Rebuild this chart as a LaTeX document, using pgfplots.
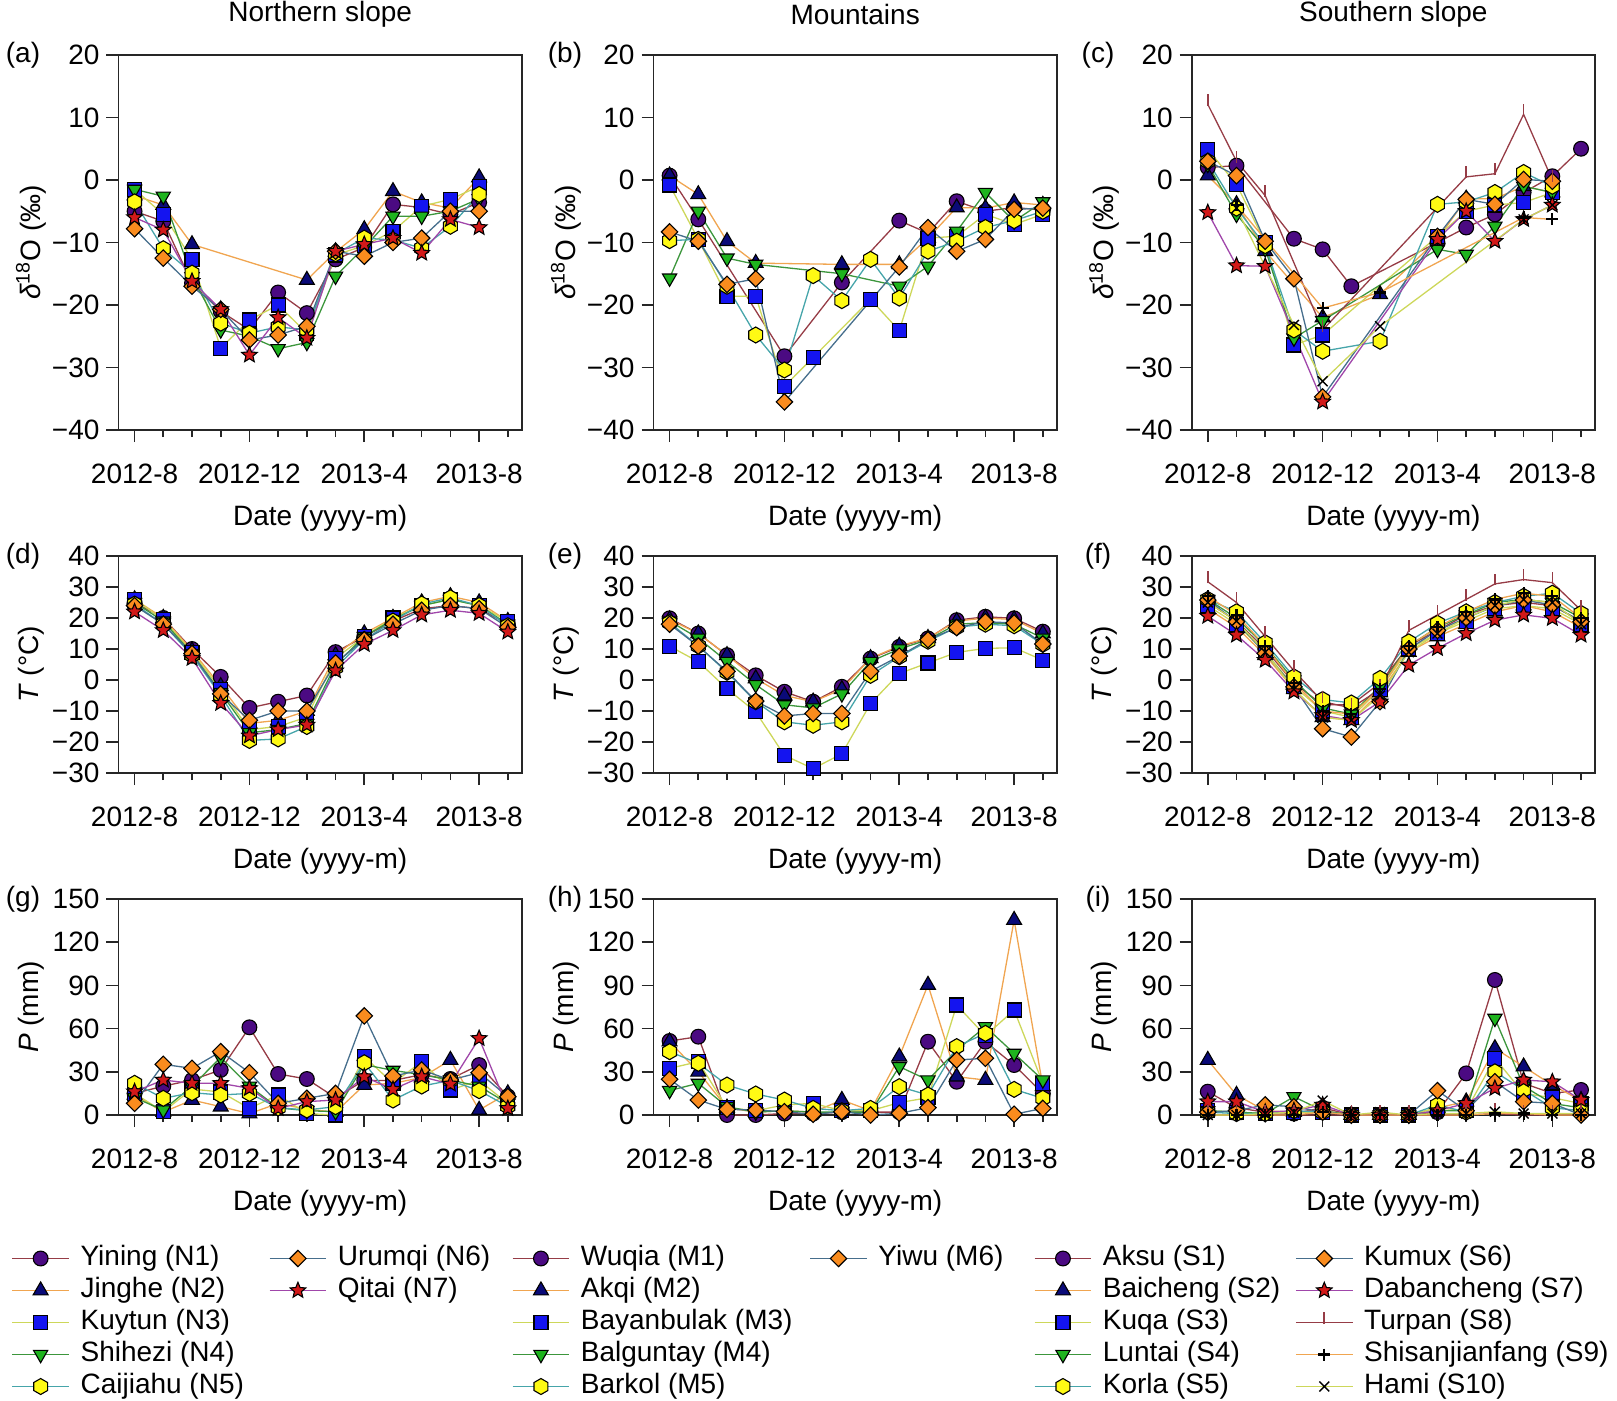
\documentclass[border=0pt]{standalone}
\usepackage{fontspec}
\setmainfont{Liberation Sans}
\usepackage{pgfplots}
\pgfplotsset{compat=1.18}
\usetikzlibrary{plotmarks}
\newcommand{\fs}{\fontsize{14}{16}\selectfont}
\definecolor{L1}{RGB}{150,60,70}
\definecolor{L2}{RGB}{240,165,80}
\definecolor{L3}{RGB}{205,215,90}
\definecolor{L4}{RGB}{60,150,60}
\definecolor{L5}{RGB}{70,165,170}
\definecolor{L6}{RGB}{70,110,140}
\definecolor{L7}{RGB}{160,70,170}
\definecolor{F1}{RGB}{75,10,130}
\definecolor{F2}{RGB}{10,10,120}
\definecolor{F3}{RGB}{20,20,240}
\definecolor{F4}{RGB}{30,180,30}
\definecolor{F5}{RGB}{255,250,20}
\definecolor{F6}{RGB}{250,140,30}
\definecolor{F7}{RGB}{210,25,25}
\pgfdeclareplotmark{hex*}{%
 \pgfpathmoveto{\pgfpointpolar{90}{\pgfplotmarksize}}%
 \pgfpathlineto{\pgfpointpolar{150}{\pgfplotmarksize}}%
 \pgfpathlineto{\pgfpointpolar{210}{\pgfplotmarksize}}%
 \pgfpathlineto{\pgfpointpolar{270}{\pgfplotmarksize}}%
 \pgfpathlineto{\pgfpointpolar{330}{\pgfplotmarksize}}%
 \pgfpathlineto{\pgfpointpolar{30}{\pgfplotmarksize}}%
 \pgfpathclose\pgfusepathqfillstroke}
\pgfdeclareplotmark{fstar}{%
 \pgfpathmoveto{\pgfpointpolar{90}{\pgfplotmarksize}}%
 \pgfpathlineto{\pgfpointpolar{126}{0.45*\pgfplotmarksize}}%
 \pgfpathlineto{\pgfpointpolar{162}{\pgfplotmarksize}}%
 \pgfpathlineto{\pgfpointpolar{198}{0.45*\pgfplotmarksize}}%
 \pgfpathlineto{\pgfpointpolar{234}{\pgfplotmarksize}}%
 \pgfpathlineto{\pgfpointpolar{270}{0.45*\pgfplotmarksize}}%
 \pgfpathlineto{\pgfpointpolar{306}{\pgfplotmarksize}}%
 \pgfpathlineto{\pgfpointpolar{342}{0.45*\pgfplotmarksize}}%
 \pgfpathlineto{\pgfpointpolar{18}{\pgfplotmarksize}}%
 \pgfpathlineto{\pgfpointpolar{54}{0.45*\pgfplotmarksize}}%
 \pgfpathclose\pgfusepathqfillstroke}
\pgfdeclareplotmark{dia*}{%
 \pgfpathmoveto{\pgfpoint{0pt}{\pgfplotmarksize}}%
 \pgfpathlineto{\pgfpoint{\pgfplotmarksize}{0pt}}%
 \pgfpathlineto{\pgfpoint{0pt}{-\pgfplotmarksize}}%
 \pgfpathlineto{\pgfpoint{-\pgfplotmarksize}{0pt}}%
 \pgfpathclose\pgfusepathqfillstroke}
\pgfdeclareplotmark{tup}{%
 \pgfpathmoveto{\pgfpoint{0pt}{-0.3*\pgfplotmarksize}}%
 \pgfpathlineto{\pgfpoint{0pt}{2*\pgfplotmarksize}}%
 \pgfusepathqstroke}
\pgfplotsset{
 mk/.style={mark options={draw=black, line width=0.55pt, solid, fill=#1}},
 s1/.style={color=L1, line width=0.65pt, mark=*, mark size=3.7pt, mk=F1},
 s2/.style={color=L2, line width=0.65pt, mark=triangle*, mark size=4.3pt, mk=F2},
 s3/.style={color=L3, line width=0.65pt, mark=square*, mark size=3.5pt, mk=F3},
 s4/.style={color=L4, line width=0.65pt, mark=triangle*, mark size=4.1pt, mark options={draw=black, line width=0.55pt, solid, fill=F4, rotate=180}},
 s5/.style={color=L5, line width=0.65pt, mark=hex*, mark size=4.0pt, mk=F5},
 s6/.style={color=L6, line width=0.65pt, mark=dia*, mark size=4.1pt, mk=F6},
 s7/.style={color=L7, line width=0.65pt, mark=fstar, mark size=4.1pt, mk=F7},
 s8/.style={color=L1, line width=0.65pt, mark=tup, mark size=2.6pt, mark options={draw=L1, line width=0.8pt, solid}},
 s9/.style={color=L2, line width=0.65pt, mark=+, mark size=3pt, mark options={draw=black, line width=1.1pt, solid}},
 s10/.style={color=L3, line width=0.65pt, mark=x, mark size=3.5pt, mark options={draw=black, line width=0.7pt, solid}},
 panel/.style={
  scale only axis, width=201.7pt, anchor=south west,
  xmin=-0.56, xmax=13.49,
  xtick={0,4,8,12}, xticklabels={2012-8,2012-12,2013-4,2013-8},
  minor xtick={1,2,3,5,6,7,9,10,11,13},
  tick pos=left, tick align=outside,
  major tick length=6pt, minor tick length=3.5pt,
  axis line style={line width=0.95pt, black!85},
  tick style={line width=0.8pt, black!85},
  tick label style={font=\fs},
  xticklabel style={yshift=-7.5pt},
  xlabel={Date (yyyy-m)},
  every axis x label/.style={at={(axis description cs:0.5,0)}, anchor=center, yshift=-44pt, font=\fs},
  every axis y label/.style={at={(axis description cs:-0.2169,0.5)}, rotate=90, anchor=center, font=\fs},
  clip=false,
  legend image code/.code={\draw[mark repeat=2,mark phase=2,##1] plot coordinates {(0pt,0pt) (14.15pt,0pt) (28.3pt,0pt)};},
 },
 r1/.style={height=187.5pt, ymin=-40, ymax=20, ytick={-40,-30,-20,-10,0,10,20},
   yticklabels={−40,−30,−20,−10,0,10,20}, ylabel={\textit{δ}\textsuperscript{18}O (‰)}},
 r2/.style={height=108.5pt, ymin=-30, ymax=40, ytick={-30,-20,-10,0,10,20,30,40},
   yticklabels={−30,−20,−10,0,10,20,30,40}, ylabel={\textit{T} (°C)}},
 r3/.style={height=108pt, ymin=0, ymax=150, ytick={0,30,60,90,120,150},
   yticklabels={0,30,60,90,120,150}, ylabel={\textit{P} (mm)}},
 leg/.style 2 args={legend columns=2, legend cell align=left,
   legend style={draw=none, fill=none, at={(axis description cs:0,0)}, anchor=north west,
   xshift=#1, yshift=-63.75pt, inner sep=0pt, outer sep=0pt, font=\fs,
   column sep=5.5pt, row sep=0pt,
   nodes={inner sep=0pt, text height=11.5pt, text depth=4.5pt},
   /tikz/every even column/.append style={column sep=#2}}},
}
\begin{document}
\begin{tikzpicture}
\useasboundingbox (0,0) rectangle (808.5pt,-700.5pt);
% ---------------- (a)
\begin{axis}[panel, r1, name=a, at={(59.25pt,-215pt)}]
\addplot[s1,forget plot] coordinates {(0,-5)(1,-6.6)(2,-16.5)(3,-21)(4,-24)(5,-18)(6,-21.3)(7,-12.7)(8,-10.8)(9,-3.9)(10,-4.4)(11,-5.5)(12,-3.6)};
\addplot[s2,forget plot] coordinates {(0,-2.5)(1,-4)(2,-10.3)(6,-16)(7,-11.5)(8,-7.9)(9,-1.8)(10,-3.6)(11,-4.5)(12,0.4)};
\addplot[s3,forget plot] coordinates {(0,-1.5)(1,-5.5)(2,-12.7)(3,-26.9)(4,-22.4)(5,-20)(6,-24.5)(7,-12)(8,-10.5)(9,-8.2)(10,-4.2)(11,-3.1)(12,-1)};
\addplot[s4,forget plot] coordinates {(0,-1.5)(1,-2.6)(2,-15.5)(3,-24)(4,-25)(5,-27)(6,-26)(7,-15.4)(8,-10.8)(9,-5.8)(10,-5.8)(11,-5)(12,-3)};
\addplot[s5,forget plot] coordinates {(0,-3.5)(1,-11)(2,-14.9)(3,-22.9)(4,-24.5)(5,-23.5)(6,-24)(7,-11.8)(8,-9.3)(9,-9.6)(10,-10.9)(11,-7.4)(12,-2.3)};
\addplot[s6,forget plot] coordinates {(0,-7.8)(1,-12.5)(2,-17)(3,-20.7)(4,-25.6)(5,-24.8)(6,-23.4)(7,-11.4)(8,-12.2)(9,-10)(10,-9.3)(11,-5)(12,-5)};
\addplot[s7,forget plot] coordinates {(0,-6)(1,-8)(2,-16.2)(3,-20.7)(4,-28)(5,-22)(6,-25.3)(7,-11.4)(8,-10.3)(9,-9.3)(10,-11.7)(11,-6.3)(12,-7.6)};
\end{axis}
\node[font=\fs] at ([xshift=-47.75pt]a.north west) {(a)};
\node[font=\fs] at ([yshift=20.25pt]a.north) {Northern slope};
% ---------------- (b)
\begin{axis}[panel, r1, name=b, at={(326.75pt,-215pt)}]
\addplot[s1,forget plot] coordinates {(0,0.7)(1,-6.3)(4,-28.2)(6,-16.4)(8,-6.5)(9,-8.5)(10,-3.4)(11,-5)(12,-4.4)(13,-4.8)};
\addplot[s2,forget plot] coordinates {(0,0.7)(1,-2.3)(2,-9.8)(3,-13.3)(6,-13.5)(8,-13.5)(9,-9.3)(10,-4.4)(11,-4.5)(12,-3.6)(13,-4)};
\addplot[s3,forget plot] coordinates {(0,-0.8)(1,-9.5)(2,-18.6)(3,-18.6)(4,-33)(5,-28.4)(7,-19.1)(8,-24.1)(9,-9.3)(10,-9)(11,-5.5)(12,-7.1)(13,-5.5)};
\addplot[s4,forget plot] coordinates {(0,-15.7)(1,-5)(2,-12.5)(3,-13.5)(6,-15)(8,-17)(9,-13.8)(10,-8.2)(11,-2)(12,-6.6)(13,-3.5)};
\addplot[s5,forget plot] coordinates {(0,-9.7)(1,-9.5)(2,-17)(3,-24.8)(4,-30.4)(5,-15.3)(6,-19.3)(7,-12.7)(8,-18.9)(9,-11.4)(10,-9.8)(11,-7.6)(12,-6.5)(13,-5)};
\addplot[s6,forget plot] coordinates {(0,-8.3)(1,-9.8)(2,-16.7)(3,-15.8)(4,-35.5)(8,-13.9)(9,-7.6)(10,-11.4)(11,-9.5)(12,-4.7)(13,-4.5)};
\end{axis}
\node[font=\fs] at ([xshift=-44.25pt]b.north west) {(b)};
\node[font=\fs] at ([yshift=20.25pt]b.north) {Mountains};
% ---------------- (c)
\begin{axis}[panel, r1, name=c, at={(595.85pt,-215pt)}]
\addplot[s1,forget plot] coordinates {(0,2)(1,2.3)(3,-9.4)(4,-11.1)(5,-17)(8,-10)(9,-7.6)(10,-5.5)(11,-2)(12,0.6)(13,5)};
\addplot[s2,forget plot] coordinates {(0,0.7)(1,-3.9)(2,-11.4)(4,-22)(6,-18.3)(8,-9.5)(9,-3)(10,-3)(11,-1)(12,-2)};
\addplot[s3,forget plot] coordinates {(0,4.9)(1,-0.7)(2,-10)(3,-26.4)(4,-24.8)(8,-9)(9,-5)(10,-4)(11,-3.6)(12,-2)};
\addplot[s4,forget plot] coordinates {(0,2.5)(1,-5.5)(2,-11)(3,-25.3)(4,-22.5)(8,-11.1)(9,-11.9)(10,-7.4)(11,-1)(12,-2)};
\addplot[s5,forget plot] coordinates {(0,3)(1,-4.5)(2,-10.5)(3,-24)(4,-27.4)(6,-25.8)(8,-3.9)(9,-3.5)(10,-2)(11,1.2)(12,-1)};
\addplot[s6,forget plot] coordinates {(0,3)(1,0.7)(2,-9.8)(3,-15.8)(4,-34.7)(8,-9)(9,-3.1)(10,-3.9)(11,0.1)(12,-0.2)};
\addplot[s7,forget plot] coordinates {(0,-5.2)(1,-13.7)(2,-13.8)(4,-35.5)(8,-9.5)(9,-5)(10,-9.8)(11,-6.3)(12,-4)};
\addplot[s8,forget plot] coordinates {(0,12.1)(1,3)(2,-2.5)(4,-24)(9,0.5)(10,1)(11,10.5)(12,0)};
\addplot[s9,forget plot] coordinates {(1,-4)(4,-20.5)(6,-18)(11,-6)(12,-6.3)};
\addplot[s10,forget plot] coordinates {(1,-4.5)(3,-23.2)(4,-32.2)(6,-23.4)(11,-6.3)(12,-4)};
\end{axis}
\node[font=\fs] at ([xshift=-46.85pt]c.north west) {(c)};
\node[font=\fs] at ([yshift=20.25pt]c.north) {Southern slope};
% ---------------- (d)
\begin{axis}[panel, r2, name=d, at={(59.25pt,-386.5pt)}]
\addplot[s1,forget plot] coordinates {(0,25)(1,20)(2,10)(3,1)(4,-9)(5,-7)(6,-5)(7,9)(8,14)(9,19)(10,23)(11,24)(12,23)(13,18)};
\addplot[s2,forget plot] coordinates {(0,26)(1,20)(2,9.5)(3,-2)(4,-14)(5,-13)(6,-10)(7,8)(8,15)(9,20)(10,25)(11,27)(12,25)(13,19)};
\addplot[s3,forget plot] coordinates {(0,26)(1,19.5)(2,9)(3,-3)(4,-16)(5,-15)(6,-12)(7,7)(8,14)(9,20)(10,24)(11,26)(12,24)(13,19)};
\addplot[s4,forget plot] coordinates {(0,25)(1,19)(2,8.5)(3,-4)(4,-17)(5,-16)(6,-14)(7,5)(8,14)(9,19.5)(10,24)(11,26)(12,24)(13,18)};
\addplot[s5,forget plot] coordinates {(0,24.5)(1,18)(2,8)(3,-5)(4,-19.5)(5,-19)(6,-15)(7,4)(8,13)(9,19)(10,24.5)(11,26.5)(12,24)(13,17.5)};
\addplot[s6,forget plot] coordinates {(0,24)(1,18)(2,8.5)(3,-4.5)(4,-13)(5,-10)(6,-10)(7,5.5)(8,13)(9,18)(10,22.5)(11,24)(12,23)(13,17)};
\addplot[s7,forget plot] coordinates {(0,22)(1,16)(2,7)(3,-7.5)(4,-18)(5,-16)(6,-14.5)(7,3)(8,11.5)(9,16)(10,21)(11,22.5)(12,21.5)(13,15.5)};
\end{axis}
\node[font=\fs] at ([xshift=-47.75pt]d.north west) {(d)};
% ---------------- (e)
\begin{axis}[panel, r2, name=e, at={(326.75pt,-386.5pt)}]
\addplot[s1,forget plot] coordinates {(0,19.9)(1,15)(2,8)(3,1.5)(4,-3.8)(5,-7)(6,-2.2)(7,6.9)(8,10.7)(9,13.4)(10,19.3)(11,20.4)(12,19.9)(13,15.6)};
\addplot[s2,forget plot] coordinates {(0,19.5)(1,15)(2,8)(3,0.5)(4,-5)(5,-7)(6,-3)(7,7)(8,11)(9,13.5)(10,19)(11,20)(12,19.5)(13,15)};
\addplot[s3,forget plot] coordinates {(0,10.9)(1,5.9)(2,-2.8)(3,-10.3)(4,-24.3)(5,-28.6)(6,-23.8)(7,-7.6)(8,2.1)(9,5.5)(10,8.9)(11,10.2)(12,10.4)(13,6.4)};
\addplot[s4,forget plot] coordinates {(0,19)(1,13.5)(2,6)(3,-1.5)(4,-8)(5,-9)(6,-4.5)(7,6)(8,10)(9,13)(10,18)(11,18.5)(12,18)(13,13.5)};
\addplot[s5,forget plot] coordinates {(0,18.5)(1,11)(2,2.5)(3,-7)(4,-13.5)(5,-14.6)(6,-13.5)(7,1.5)(8,7.5)(9,12.5)(10,17)(11,18)(12,17.5)(13,11.5)};
\addplot[s6,forget plot] coordinates {(0,18)(1,10.9)(2,2.8)(3,-6.8)(4,-11.6)(5,-10.8)(6,-10.8)(7,2.8)(8,7.7)(9,13)(10,16.9)(11,18.8)(12,18.4)(13,11.6)};
\end{axis}
\node[font=\fs] at ([xshift=-44.25pt]e.north west) {(e)};
% ---------------- (f)
\begin{axis}[panel, r2, name=f, at={(595.85pt,-386.5pt)}]
\addplot[s1,forget plot] coordinates {(0,25)(1,19)(2,10)(3,-1)(4,-8)(5,-8)(6,-1)(7,11)(8,16)(9,21)(10,24)(11,25)(12,24)(13,19)};
\addplot[s2,forget plot] coordinates {(0,23)(1,17)(2,8)(3,-3)(4,-12)(5,-13)(6,-4)(7,9)(8,14)(9,18)(10,22)(11,24)(12,22)(13,17)};
\addplot[s3,forget plot] coordinates {(0,24)(1,18)(2,9)(3,-2)(4,-10)(5,-12)(6,-3)(7,10)(8,15)(9,19)(10,23)(11,24)(12,23)(13,18)};
\addplot[s4,forget plot] coordinates {(0,26)(1,20)(2,11)(3,0)(4,-9)(5,-11)(6,-2)(7,11)(8,17)(9,21)(10,25)(11,26)(12,25)(13,20)};
\addplot[s5,forget plot] coordinates {(0,26)(1,22)(2,12)(3,1)(4,-6.3)(5,-7.4)(6,0.5)(7,12.3)(8,18.3)(9,22)(10,25)(11,27)(12,28)(13,21.5)};
\addplot[s6,forget plot] coordinates {(0,25.8)(1,18.8)(2,8.6)(3,-2.2)(4,-15.7)(5,-18.4)(6,-7)(7,10)(8,16)(9,20)(10,23.8)(11,25.8)(12,24.2)(13,18.8)};
\addplot[s7,forget plot] coordinates {(0,20.6)(1,14.5)(2,6.4)(3,-3.8)(4,-11.4)(5,-13)(6,-7)(7,4.8)(8,10.2)(9,15)(10,19.3)(11,21)(12,19.9)(13,14.5)};
\addplot[s8,forget plot] coordinates {(0,31.7)(1,25)(2,14)(3,3)(4,-7)(5,-9)(6,-3)(7,16)(8,21)(9,26)(10,31)(11,32.4)(12,31.4)(13,22.5)};
\addplot[s9,forget plot] coordinates {(0,27)(1,21)(2,11)(3,-1)(4,-10)(5,-11)(6,-3)(7,11)(8,17)(9,22)(10,26)(11,28)(12,27)(13,20)};
\addplot[s10,forget plot] coordinates {(0,25)(1,19)(2,9)(3,-3)(4,-12)(5,-13)(6,-5)(7,9)(8,15)(9,20)(10,24)(11,26)(12,25)(13,18)};
\end{axis}
\node[font=\fs] at ([xshift=-46.85pt]f.north west) {(f)};
% ---------------- (g)
\begin{axis}[panel, r3, name=g, at={(59.25pt,-557.5pt)}, leg={-53.4pt}{12.5pt}]
\addplot[s1,forget plot] coordinates {(0,15)(1,20)(2,24.3)(3,31.3)(4,60.9)(5,28.5)(6,25)(7,12)(8,24)(9,24)(10,28)(11,25)(12,34.7)(13,13)};
\addplot[s2,forget plot] coordinates {(0,14)(1,2)(2,10.4)(3,5.8)(4,1)(5,8)(6,4)(7,2)(8,20.8)(9,22)(10,26)(11,38.2)(12,3.5)(13,15)};
\addplot[s3,forget plot] coordinates {(0,15)(1,2.3)(2,18)(3,16)(4,4.6)(5,13.9)(6,1)(7,0)(8,40.5)(9,22)(10,37)(11,17.4)(12,24)(13,8)};
\addplot[s4,forget plot] coordinates {(0,12)(1,3.5)(2,20)(3,40)(4,20)(5,5)(6,3)(7,2.3)(8,35)(9,31)(10,28)(11,24.3)(12,20)(13,8)};
\addplot[s5,forget plot] coordinates {(0,22)(1,11.6)(2,15.5)(3,13.9)(4,15)(5,5)(6,3.5)(7,5.8)(8,36.3)(9,10.4)(10,20.1)(11,24)(12,16.9)(13,6)};
\addplot[s6,forget plot] coordinates {(0,8.1)(1,35.2)(2,32.4)(3,44)(4,29.4)(5,8.1)(6,11.6)(7,15)(8,68.8)(9,27)(10,31.3)(11,24.3)(12,29.4)(13,12.7)};
\addplot[s7,forget plot] coordinates {(0,16.2)(1,24.3)(2,22)(3,22)(4,18.5)(5,4.6)(6,9.3)(7,10.4)(8,26.6)(9,17.8)(10,26.6)(11,21.5)(12,53.2)(13,4.6)};
\addlegendimage{s1}\addlegendentry{Yining (N1)}
\addlegendimage{s6}\addlegendentry{Urumqi (N6)}
\addlegendimage{s2}\addlegendentry{Jinghe (N2)}
\addlegendimage{s7}\addlegendentry{Qitai (N7)}
\addlegendimage{s3}\addlegendentry{Kuytun (N3)}
\addlegendimage{empty legend}\addlegendentry{}
\addlegendimage{s4}\addlegendentry{Shihezi (N4)}
\addlegendimage{empty legend}\addlegendentry{}
\addlegendimage{s5}\addlegendentry{Caijiahu (N5)}
\end{axis}
\node[font=\fs] at ([xshift=-47.75pt]g.north west) {(g)};
% ---------------- (h)
\begin{axis}[panel, r3, name=h, at={(326.75pt,-557.5pt)}, leg={-70.75pt}{8.5pt}]
\addplot[s1,forget plot] coordinates {(0,51.4)(1,54.4)(2,0)(3,0)(4,1)(5,1)(6,2)(7,2)(8,2)(9,50.9)(10,23.1)(11,50.9)(12,34.7)(13,15)};
\addplot[s2,forget plot] coordinates {(0,51)(1,30)(2,5)(3,2)(4,3)(5,2)(6,10.4)(7,3)(8,40.5)(9,90.3)(10,26.6)(11,24.3)(12,135.4)(13,20)};
\addplot[s3,forget plot] coordinates {(0,32.4)(1,37)(2,5)(3,3)(4,7)(5,8.1)(6,3)(7,3)(8,8.6)(9,12)(10,76.4)(11,55)(12,72.9)(13,22)};
\addplot[s4,forget plot] coordinates {(0,17)(1,22)(2,5.8)(3,2)(4,3)(5,2)(6,2)(7,2)(8,33.6)(9,24.3)(10,45)(11,61.3)(12,42.8)(13,24.3)};
\addplot[s5,forget plot] coordinates {(0,44)(1,35.9)(2,20.8)(3,14.6)(4,10.4)(5,4.6)(6,3)(7,4.6)(8,19.7)(9,13.9)(10,47.5)(11,56.7)(12,17.8)(13,11.6)};
\addplot[s6,forget plot] coordinates {(0,24.8)(1,10.4)(2,3.9)(3,3.5)(4,2.3)(5,0.5)(6,2.3)(7,0)(8,1.2)(9,5.1)(10,38.2)(11,39.4)(12,0.5)(13,4.6)};
\addlegendimage{s1}\addlegendentry{Wuqia (M1)}
\addlegendimage{s6}\addlegendentry{Yiwu (M6)}
\addlegendimage{s2}\addlegendentry{Akqi (M2)}
\addlegendimage{empty legend}\addlegendentry{}
\addlegendimage{s3}\addlegendentry{Bayanbulak (M3)}
\addlegendimage{empty legend}\addlegendentry{}
\addlegendimage{s4}\addlegendentry{Balguntay (M4)}
\addlegendimage{empty legend}\addlegendentry{}
\addlegendimage{s5}\addlegendentry{Barkol (M5)}
\end{axis}
\node[font=\fs] at ([xshift=-44.25pt]h.north west) {(h)};
% ---------------- (i)
\begin{axis}[panel, r3, name=i, at={(595.85pt,-557.5pt)}, leg={-78.85pt}{7.5pt}]
\addplot[s1,forget plot] coordinates {(0,16.2)(1,5)(2,2)(3,1)(4,5)(5,0)(6,0)(7,0)(8,2)(9,28.9)(10,93.8)(11,22)(12,15)(13,17.4)};
\addplot[s2,forget plot] coordinates {(0,38.2)(1,13.9)(2,3)(3,2)(4,3)(5,0)(6,0)(7,0)(8,5)(9,9.3)(10,46.3)(11,33.6)(12,20.8)(13,10)};
\addplot[s3,forget plot] coordinates {(0,3)(1,2)(2,1)(3,2)(4,2)(5,0)(6,0)(7,0)(8,5)(9,3)(10,39.4)(11,15)(12,12)(13,8)};
\addplot[s4,forget plot] coordinates {(0,3)(1,2)(2,1)(3,12.7)(4,3)(5,0)(6,0)(7,0)(8,3)(9,3)(10,67.1)(11,20)(12,8)(13,5)};
\addplot[s5,forget plot] coordinates {(0,2)(1,1)(2,1)(3,3)(4,2)(5,0)(6,0)(7,0)(8,7)(9,2)(10,30)(11,17.4)(12,5)(13,3)};
\addplot[s6,forget plot] coordinates {(0,2)(1,3)(2,7)(3,5.8)(4,2)(5,0)(6,0)(7,0)(8,16.9)(9,3)(10,23.1)(11,9.3)(12,8.1)(13,0)};
\addplot[s7,forget plot] coordinates {(0,9.3)(1,9.3)(2,2)(3,3)(4,7)(5,0)(6,0)(7,0)(8,3)(9,8.1)(10,18.5)(11,24.3)(12,23.1)(13,10.4)};
\addplot[s8,forget plot] coordinates {(0,0)(1,0)(2,0)(3,0)(4,0)(5,0)(6,0)(7,0)(8,0)(9,0)(10,1)(11,0)(12,0)(13,0)};
\addplot[s9,forget plot] coordinates {(0,0)(1,0)(2,0)(3,0)(4,2)(5,0)(6,0)(7,0)(8,0)(9,0)(10,1)(11,1)(12,0)(13,0)};
\addplot[s10,forget plot] coordinates {(0,0)(1,0)(2,1)(3,2)(4,10)(5,0)(6,2)(7,0)(8,1)(9,1)(10,2.3)(11,1)(12,1)(13,1)};
\addlegendimage{s1}\addlegendentry{Aksu (S1)}
\addlegendimage{s6}\addlegendentry{Kumux (S6)}
\addlegendimage{s2}\addlegendentry{Baicheng (S2)}
\addlegendimage{s7}\addlegendentry{Dabancheng (S7)}
\addlegendimage{s3}\addlegendentry{Kuqa (S3)}
\addlegendimage{s8}\addlegendentry{Turpan (S8)}
\addlegendimage{s4}\addlegendentry{Luntai (S4)}
\addlegendimage{s9}\addlegendentry{Shisanjianfang (S9)}
\addlegendimage{s5}\addlegendentry{Korla (S5)}
\addlegendimage{s10}\addlegendentry{Hami (S10)}
\end{axis}
\node[font=\fs] at ([xshift=-46.85pt]i.north west) {(i)};
\end{tikzpicture}
\end{document}
